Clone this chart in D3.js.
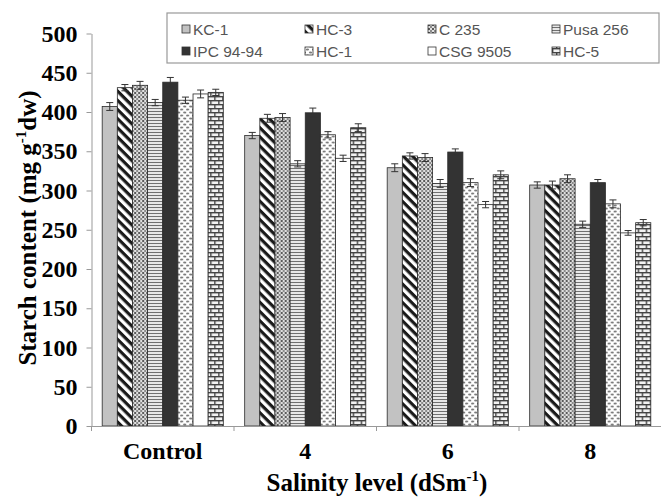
<!DOCTYPE html>
<html><head><meta charset="utf-8">
<script src="https://cdn.jsdelivr.net/npm/d3@7"></script>
<style>
body{margin:0;background:#fff;}
svg{display:block;}
</style></head>
<body>
<svg id="chart" width="661" height="498"></svg>
<script>
const categories = ["Control", "4", "6", "8"];
const seriesNames = ["KC-1", "HC-3", "C 235", "Pusa 256", "IPC 94-94", "HC-1", "CSG 9505", "HC-5"];
const kc1   = [407, 370, 329, 307];
const hc3   = [431, 392, 344, 307];
const c235  = [434, 393, 342, 315];
const pusa  = [412, 334, 309, 257];
const ipc   = [438, 399, 349, 310];
const hc1   = [415, 371, 310, 283];
const csg   = [423, 341, 282, 246];
const hc5   = [425, 380, 320, 259];
const kc1Err  = [5, 4, 5, 4];
const hc3Err  = [4, 5, 4, 5];
const c235Err = [5, 5, 5, 5];
const pusaErr = [4, 4, 5, 4];
const ipcErr  = [6, 6, 4, 4];
const hc1Err  = [4, 4, 5, 5];
const csgErr  = [5, 4, 4, 3];
const hc5Err  = [4, 5, 5, 4];
const yTicks = [0, 50, 100, 150, 200, 250, 300, 350, 400, 450, 500];

const values = [kc1, hc3, c235, pusa, ipc, hc1, csg, hc5];
const errors = [kc1Err, hc3Err, c235Err, pusaErr, ipcErr, hc1Err, csgErr, hc5Err];
const fills = ["url(#pKC1)", "url(#pHC3)", "url(#pC235)", "url(#pPusa)", "url(#pIPC)", "url(#pHC1)", "url(#pCSG)", "url(#pHC5)"];
const serif = "'Liberation Serif', 'Times New Roman', serif";

const svg = d3.select("#chart");
const defs = svg.append("defs");

function pat(id, w, h, transform) {
  const p = defs.append("pattern").attr("id", id).attr("patternUnits", "userSpaceOnUse")
    .attr("width", w).attr("height", h);
  if (transform) p.attr("patternTransform", transform);
  return p;
}
let p;
p = pat("pKC1", 4, 4); p.append("rect").attr("width", 4).attr("height", 4).attr("fill", "#c2c2c2");
p = pat("pIPC", 4, 4); p.append("rect").attr("width", 4).attr("height", 4).attr("fill", "#333");
p = pat("pCSG", 4, 4); p.append("rect").attr("width", 4).attr("height", 4).attr("fill", "#fff");
p = pat("pHC3", 6.5, 6.5, "rotate(45)");
p.append("rect").attr("width", 6.5).attr("height", 6.5).attr("fill", "#fff");
p.append("rect").attr("width", 6.5).attr("height", 3.2).attr("fill", "#1a1a1a");
p = pat("pC235", 4, 4);
p.append("rect").attr("width", 4).attr("height", 4).attr("fill", "#e0e0e0");
p.append("rect").attr("x", 0).attr("y", 0).attr("width", 2).attr("height", 2).attr("fill", "#5a5a5a");
p.append("rect").attr("x", 2).attr("y", 2).attr("width", 2).attr("height", 2).attr("fill", "#8a8a8a");
p = pat("pPusa", 4, 3);
p.append("rect").attr("width", 4).attr("height", 3).attr("fill", "#e8e8e8");
p.append("rect").attr("width", 4).attr("height", 1).attr("fill", "#707070");
p = pat("pHC1", 6, 6);
p.append("rect").attr("width", 6).attr("height", 6).attr("fill", "#fff");
p.append("ellipse").attr("cx", 1.5).attr("cy", 1.5).attr("rx", 1.6).attr("ry", 1).attr("fill", "#7a7a7a");
p.append("ellipse").attr("cx", 4.5).attr("cy", 4.5).attr("rx", 1.6).attr("ry", 1).attr("fill", "#7a7a7a");
p = pat("pHC5", 8, 8);
p.append("rect").attr("width", 8).attr("height", 8).attr("fill", "#f2f2f2");
p.append("rect").attr("x", 0).attr("y", 0).attr("width", 8).attr("height", 1.4).attr("fill", "#444");
p.append("rect").attr("x", 0).attr("y", 4).attr("width", 8).attr("height", 1.4).attr("fill", "#444");
p.append("rect").attr("x", 0).attr("y", 0).attr("width", 1.4).attr("height", 4).attr("fill", "#444");
p.append("rect").attr("x", 4).attr("y", 4).attr("width", 1.4).attr("height", 4).attr("fill", "#444");

const x0 = d3.scaleBand().domain(categories).range([91.5, 661.5]).paddingInner(0.15).paddingOuter(0.075);
const x1 = d3.scaleBand().domain(seriesNames).range([0, x0.bandwidth()]);
const y = d3.scaleLinear().domain([0, 500]).range([426, 33.5]);

// bars
const groups = svg.append("g").selectAll("g").data(categories).join("g")
  .attr("transform", d => `translate(${x0(d)},0)`);
groups.each(function(cat, ci) {
  const g = d3.select(this);
  seriesNames.forEach((s, si) => {
    const v = values[si][ci];
    g.append("rect").attr("x", x1(s)).attr("y", y(v))
      .attr("width", x1.bandwidth()).attr("height", y(0) - y(v))
      .attr("fill", fills[si]).attr("stroke", "#2a2a2a").attr("stroke-width", 0.8);
    const e = errors[si][ci];
    const cx = x1(s) + x1.bandwidth() / 2;
    g.append("line").attr("x1", cx).attr("x2", cx).attr("y1", y(v - e)).attr("y2", y(v + e))
      .attr("stroke", "#333").attr("stroke-width", 1);
    [v + e, v - e].forEach(t => {
      g.append("line").attr("x1", cx - 3.5).attr("x2", cx + 3.5).attr("y1", y(t)).attr("y2", y(t))
        .attr("stroke", "#333").attr("stroke-width", 1);
    });
  });
});

// y axis
const yAxis = svg.append("g").attr("transform", "translate(91.5,0)")
  .call(d3.axisLeft(y).tickValues(yTicks).tickSize(5).tickPadding(9).tickSizeOuter(0));
yAxis.select(".domain").attr("stroke", "#999");
yAxis.selectAll(".tick line").attr("stroke", "#999");
yAxis.selectAll("text").attr("font-family", serif)
  .attr("font-weight", "bold").attr("font-size", 24).attr("fill", "#000");

// x axis
const xAxis = svg.append("g").attr("transform", "translate(0,426)")
  .call(d3.axisBottom(x0).tickSize(0).tickPadding(16).tickSizeOuter(0));
xAxis.select(".domain").attr("stroke", "#999");
xAxis.selectAll("text").attr("font-family", serif)
  .attr("font-weight", "bold").attr("font-size", 24).attr("fill", "#000");
const bounds = categories.map(c => x0(c) - x0.step() * x0.paddingInner() / 2);
svg.append("g").selectAll("line").data(bounds).join("line")
  .attr("x1", d => d).attr("x2", d => d).attr("y1", 426).attr("y2", 431)
  .attr("stroke", "#999");

// axis titles
const yt = svg.append("text")
  .attr("transform", "translate(36,228) rotate(-90)")
  .attr("text-anchor", "middle")
  .attr("font-family", serif)
  .attr("font-weight", "bold").attr("font-size", 25).attr("fill", "#000");
yt.append("tspan").text("Starch content (mg g");
yt.append("tspan").attr("font-size", 15).attr("dy", -10).text("-1");
yt.append("tspan").attr("dy", 10).text("dw)");

const xt = svg.append("text")
  .attr("x", 377).attr("y", 491)
  .attr("text-anchor", "middle")
  .attr("font-family", serif)
  .attr("font-weight", "bold").attr("font-size", 25).attr("fill", "#000");
xt.append("tspan").text("Salinity level (dSm");
xt.append("tspan").attr("font-size", 15).attr("dy", -10).text("-1");
xt.append("tspan").attr("dy", 10).text(")");

// legend
const legend = svg.append("g");
legend.append("rect").attr("x", 167).attr("y", 13).attr("width", 492).attr("height", 50)
  .attr("fill", "#fff").attr("stroke", "#999").attr("stroke-width", 1.2);
const colX = [182, 305, 428, 552];
const rowY = [29, 51];
seriesNames.forEach((s, i) => {
  const cx = colX[i % 4], cy = rowY[Math.floor(i / 4)];
  legend.append("rect").attr("x", cx).attr("y", cy - 4).attr("width", 8).attr("height", 8)
    .attr("fill", fills[i]).attr("stroke", "#333").attr("stroke-width", 0.8);
  legend.append("text").attr("x", cx + 11).attr("y", cy + 5.5)
    .attr("font-family", "'Liberation Sans', Arial, sans-serif").attr("font-size", 15.5)
    .attr("fill", "#555").text(s);
});
</script>
</body></html>
